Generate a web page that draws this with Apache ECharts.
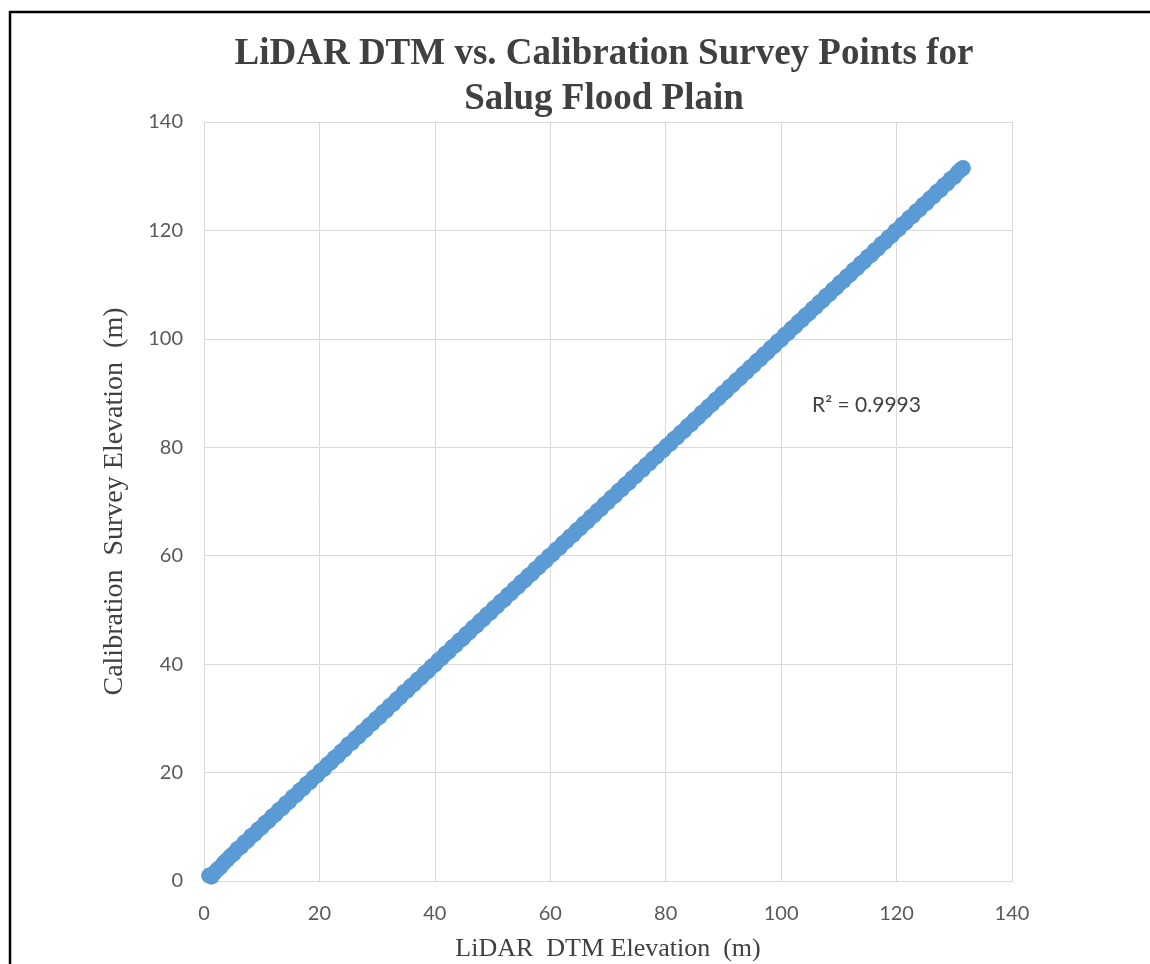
<!DOCTYPE html>
<html>
<head>
<meta charset="utf-8">
<script src="https://cdn.jsdelivr.net/npm/echarts@6/dist/echarts.min.js"></script>
<style>
html,body{margin:0;padding:0;background:#fff;}
#chart{width:1150px;height:964px;}
</style>
</head>
<body>
<div id="chart"></div>
<script>
var titleLines = ['LiDAR DTM vs. Calibration Survey Points for', 'Salug Flood Plain'];
var xAxisName = 'LiDAR  DTM Elevation  (m)';
var yAxisName = 'Calibration  Survey Elevation  (m)';
var rSquaredText = 'R\u00b2 = 0.9993';
var axisTicks = [0, 20, 40, 60, 80, 100, 120, 140];

// [LiDAR DTM elevation, calibration survey elevation]
var surveyPoints = [
  [0.9,1.0],[1.3,0.8],[1.8,1.5],[2.3,2.1],[2.8,2.5],[3.4,3.3],[4.0,3.9],[4.6,4.6],[5.2,5.1],[5.8,5.9],
  [6.4,6.3],[7.0,7.1],[7.6,7.5],[8.2,8.3],[8.8,8.7],[9.4,9.5],[10.0,9.9],[10.6,10.7],[11.2,11.1],[11.8,11.9],
  [12.4,12.3],[13.0,13.1],[13.6,13.5],[14.2,14.3],[14.8,14.7],[15.4,15.5],[16.0,15.9],[16.6,16.7],[17.2,17.1],[17.8,17.9],
  [18.4,18.3],[19.0,19.1],[19.6,19.5],[20.2,20.3],[20.8,20.7],[21.4,21.5],[22.0,21.9],[22.6,22.7],[23.2,23.1],[23.8,23.9],
  [24.4,24.3],[25.0,25.2],[25.6,25.5],[26.2,26.3],[26.8,26.7],[27.4,27.5],[28.0,27.9],[28.6,28.7],[29.2,29.1],[29.8,29.9],
  [30.4,30.3],[31.0,31.1],[31.6,31.5],[32.2,32.3],[32.8,32.7],[33.4,33.5],[34.0,33.9],[34.6,34.8],[35.2,35.1],[35.8,35.9],
  [36.4,36.3],[37.0,37.1],[37.6,37.5],[38.2,38.3],[38.8,38.7],[39.4,39.5],[40.0,39.9],[40.6,40.7],[41.2,41.1],[41.8,41.9],
  [42.4,42.3],[43.0,43.1],[43.6,43.5],[44.2,44.3],[44.8,44.7],[45.4,45.5],[46.0,45.9],[46.6,46.7],[47.2,47.1],[47.8,47.9],
  [48.4,48.3],[49.0,49.1],[49.6,49.5],[50.2,50.3],[50.8,50.7],[51.4,51.5],[52.0,51.9],[52.6,52.7],[53.2,53.1],[53.8,53.9],
  [54.4,54.3],[55.0,55.1],[55.6,55.5],[56.2,56.3],[56.8,56.7],[57.4,57.5],[58.0,57.9],[58.6,58.7],[59.2,59.1],[59.8,59.9],
  [60.4,60.3],[61.0,61.1],[61.6,61.5],[62.2,62.3],[62.8,62.7],[63.4,63.5],[64.0,63.9],[64.6,64.7],[65.2,65.1],[65.8,65.9],
  [66.4,66.3],[67.0,67.1],[67.6,67.5],[68.2,68.3],[68.8,68.7],[69.4,69.5],[70.0,69.9],[70.6,70.7],[71.2,71.1],[71.8,71.9],
  [72.4,72.3],[73.0,73.1],[73.6,73.5],[74.2,74.3],[74.8,74.7],[75.4,75.5],[76.0,75.9],[76.6,76.7],[77.2,77.1],[77.8,77.9],
  [78.4,78.3],[79.0,79.1],[79.6,79.5],[80.2,80.3],[80.8,80.7],[81.4,81.5],[82.0,81.9],[82.6,82.7],[83.2,83.1],[83.8,83.9],
  [84.4,84.3],[85.0,85.1],[85.6,85.5],[86.2,86.3],[86.8,86.7],[87.4,87.5],[88.0,87.9],[88.6,88.7],[89.2,89.1],[89.8,89.9],
  [90.4,90.3],[91.0,91.1],[91.6,91.5],[92.2,92.3],[92.8,92.7],[93.4,93.5],[94.0,93.9],[94.6,94.7],[95.2,95.1],[95.8,95.9],
  [96.4,96.3],[97.0,97.1],[97.6,97.5],[98.2,98.3],[98.8,98.7],[99.4,99.5],[100.0,99.9],[100.6,100.7],[101.2,101.1],[101.8,101.9],
  [102.4,102.3],[103.0,103.1],[103.6,103.5],[104.2,104.3],[104.8,104.7],[105.4,105.5],[106.0,105.9],[106.6,106.7],[107.2,107.1],[107.8,107.9],
  [108.4,108.3],[109.0,109.1],[109.6,109.5],[110.2,110.3],[110.8,110.7],[111.4,111.5],[112.0,111.9],[112.6,112.7],[113.2,113.1],[113.8,113.9],
  [114.4,114.3],[115.0,115.1],[115.6,115.5],[116.2,116.3],[116.8,116.7],[117.4,117.5],[118.0,117.9],[118.6,118.7],[119.2,119.1],[119.8,119.9],
  [120.4,120.3],[121.0,121.1],[121.6,121.5],[122.2,122.3],[122.8,122.7],[123.4,123.5],[124.0,123.9],[124.6,124.7],[125.2,125.1],[125.8,125.9],
  [126.4,126.3],[127.0,127.1],[127.6,127.5],[128.2,128.3],[128.8,128.7],[129.4,129.5],[130.0,129.9],[130.6,130.7],[131.1,131.2],[131.5,131.5]
];

var chart = echarts.init(document.getElementById('chart'), null, {renderer: 'canvas'});
var tickFont = {fontFamily: 'Lato, "Open Sans", sans-serif', fontSize: 20, color: '#595959'};
var serif = '"Liberation Serif", "Times New Roman", serif';

chart.setOption({
  backgroundColor: '#fff',
  animation: false,
  title: {
    text: titleLines.join('\n'),
    left: 599,
    top: 27,
    textAlign: 'center',
    textStyle: {
      fontFamily: serif,
      fontWeight: 'bold',
      fontSize: 37,
      lineHeight: 45,
      color: '#404040'
    }
  },
  grid: {left: 204, right: 138, top: 122, bottom: 83, containLabel: false, outerBoundsMode: 'none'},
  xAxis: {
    type: 'value',
    min: axisTicks[0], max: axisTicks[axisTicks.length - 1], interval: 20,
    name: xAxisName, nameLocation: 'middle', nameGap: 55,
    nameTextStyle: {fontFamily: serif, fontSize: 26, color: '#404040'},
    axisLine: {show: true, lineStyle: {color: '#d9d9d9', width: 1}},
    axisTick: {show: false},
    axisLabel: Object.assign({margin: 23}, tickFont),
    splitLine: {show: true, lineStyle: {color: '#d9d9d9', width: 1}}
  },
  yAxis: {
    type: 'value',
    min: axisTicks[0], max: axisTicks[axisTicks.length - 1], interval: 20,
    name: yAxisName, nameLocation: 'middle', nameGap: 75,
    nameTextStyle: {fontFamily: serif, fontSize: 28, color: '#404040'},
    axisLine: {show: false},
    axisTick: {show: false},
    axisLabel: Object.assign({margin: 21}, tickFont),
    splitLine: {show: true, lineStyle: {color: '#d9d9d9', width: 1}}
  },
  series: [{
    type: 'scatter',
    data: surveyPoints,
    symbol: 'circle',
    symbolSize: 16,
    itemStyle: {color: '#5b9bd5', opacity: 1},
    z: 3
  }],
  graphic: [
    {type: 'polyline', shape: {points: [[10, 964], [10, 12], [1150, 12]]},
     style: {stroke: '#000', lineWidth: 2.5, fill: null}, z: 100},
    {type: 'text', left: 812, top: 395,
     style: {text: rSquaredText, fontFamily: 'Lato, "Open Sans", sans-serif', fontSize: 21, fill: '#404040'}}
  ]
});
</script>
</body>
</html>
